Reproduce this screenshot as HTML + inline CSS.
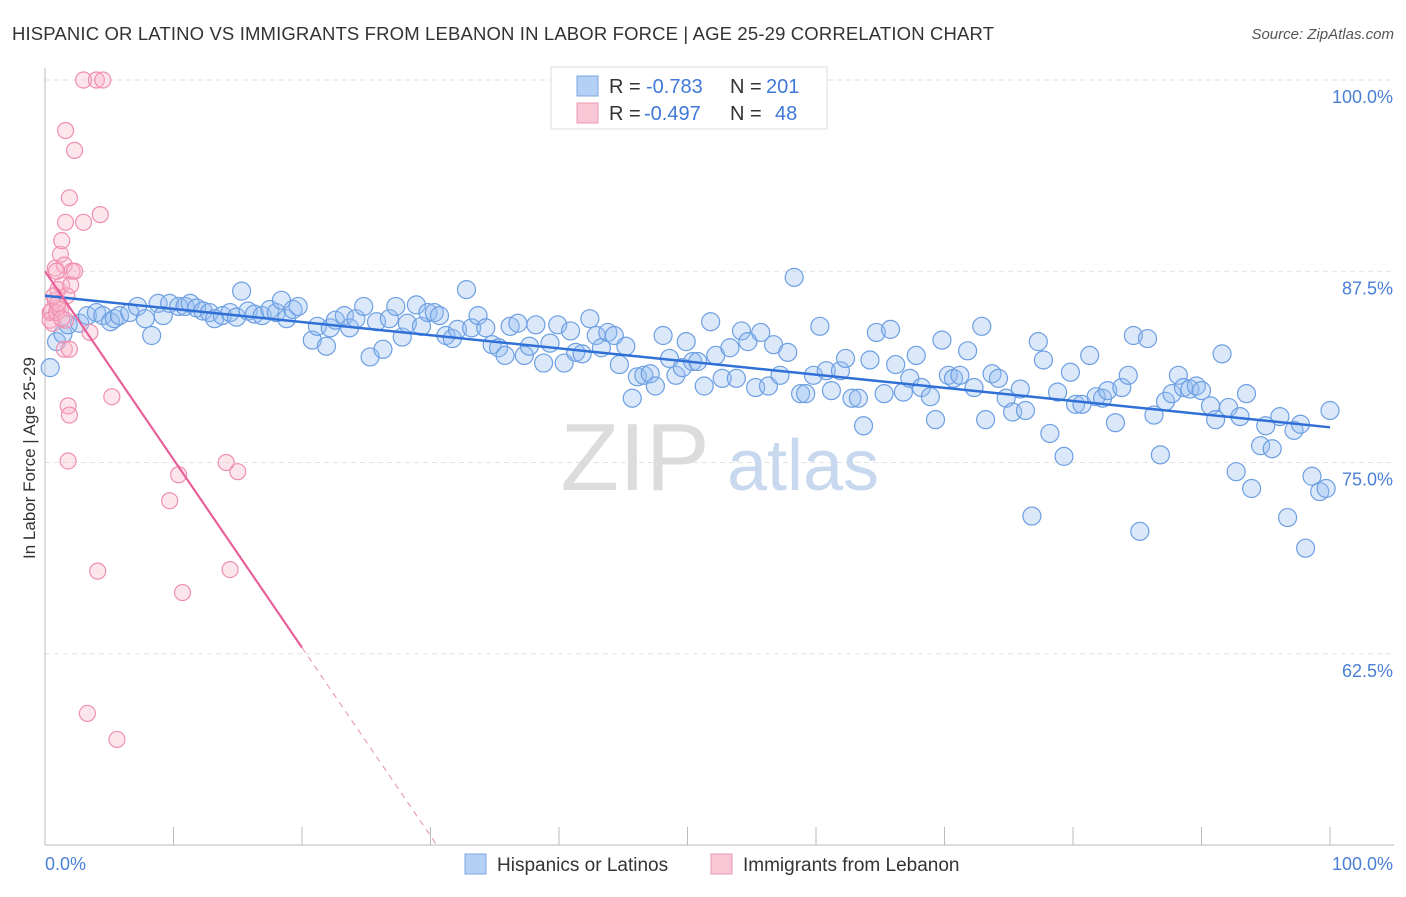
<!DOCTYPE html>
<html><head><meta charset="utf-8">
<style>
body{margin:0;background:#fff;font-family:"Liberation Sans",sans-serif;}
svg text{font-family:"Liberation Sans",sans-serif;}
</style></head>
<body>
<svg id="chart" width="1406" height="892" viewBox="0 0 1406 892">
<text x="12" y="40" font-size="18.5" fill="#333" textLength="982" lengthAdjust="spacing">HISPANIC OR LATINO VS IMMIGRANTS FROM LEBANON IN LABOR FORCE | AGE 25-29 CORRELATION CHART</text>
<text x="1394" y="39" font-size="15" fill="#555" font-style="italic" text-anchor="end">Source: ZipAtlas.com</text>
<g id="grid"></g>
<g>
<text x="635" y="490" font-size="96" fill="#dcdcdc" font-family="Liberation Serif" text-anchor="middle">ZIP</text>
<text x="803" y="490" font-size="72" fill="#c8d8ee" text-anchor="middle">atlas</text>
</g>
<g id="marks"></g>
<text x="35" y="458" font-size="17" fill="#333" text-anchor="middle" transform="rotate(-90 35 458)">In Labor Force | Age 25-29</text>
<text x="45" y="870" font-size="18" fill="#4a7fd6">0.0%</text>
<text x="1393" y="870" font-size="18" fill="#4a7fd6" text-anchor="end">100.0%</text>
<g>
<rect x="551" y="67" width="276" height="62" fill="#fff" stroke="#ddd"/>
<rect x="577" y="76" width="21" height="20" fill="#b5d0f5" stroke="#7aa6e0"/>
<text x="609" y="93" font-size="20" fill="#333">R = </text><text x="646" y="93" font-size="20" fill="#3f78d8">-0.783</text>
<text x="730" y="93" font-size="20" fill="#333">N = </text><text x="766" y="93" font-size="20" fill="#3f78d8">201</text>
<rect x="577" y="103" width="21" height="20" fill="#f9c6d6" stroke="#ec9ab6"/>
<text x="609" y="120" font-size="20" fill="#333">R = </text><text x="644" y="120" font-size="20" fill="#3f78d8">-0.497</text>
<text x="730" y="120" font-size="20" fill="#333">N = </text><text x="775" y="120" font-size="20" fill="#3f78d8">48</text>
</g>
<g>
<rect x="465" y="854" width="21" height="20" fill="#b5d0f5" stroke="#7aa6e0"/>
<text x="497" y="871" font-size="19" fill="#333">Hispanics or Latinos</text>
<rect x="711" y="854" width="21" height="20" fill="#f9c6d6" stroke="#ec9ab6"/>
<text x="743" y="871" font-size="19" fill="#333">Immigrants from Lebanon</text>
</g>
</svg>
<script>
const blueX=[0.4,0.9,1.4,1.8,2.7,3.3,4.0,4.5,5.1,5.4,5.8,6.6,7.2,7.8,8.3,8.8,9.2,9.7,10.4,10.9,11.3,11.8,12.3,12.8,13.2,13.8,14.4,14.9,15.3,15.8,16.3,16.9,17.5,18.0,18.4,18.8,19.3,19.7,20.8,21.2,21.9,22.2,22.6,23.3,23.7,24.2,24.8,25.3,25.8,26.3,26.8,27.3,27.8,28.2,28.9,29.3,29.8,30.3,30.7,31.2,31.7,32.1,32.8,33.2,33.7,34.3,34.8,35.3,35.8,36.2,36.8,37.3,37.7,38.2,38.8,39.3,39.9,40.4,40.9,41.3,41.8,42.4,42.9,43.3,43.8,44.3,44.7,45.2,45.7,46.1,46.6,47.1,47.5,48.1,48.6,49.1,49.6,49.9,50.4,50.8,51.3,51.8,52.2,52.7,53.3,53.8,54.2,54.7,55.3,55.7,56.3,56.7,57.2,57.8,58.3,58.8,59.2,59.8,60.3,60.8,61.2,61.9,62.3,62.8,63.3,63.7,64.2,64.7,65.3,65.8,66.2,66.8,67.3,67.8,68.2,68.9,69.3,69.8,70.3,70.7,71.2,71.8,72.3,72.9,73.2,73.7,74.2,74.8,75.3,75.9,76.3,76.8,77.3,77.7,78.2,78.8,79.3,79.8,80.2,80.7,81.3,81.8,82.3,82.7,83.3,83.8,84.3,84.7,85.2,85.8,86.3,86.8,87.2,87.7,88.2,88.6,89.1,89.6,90.0,90.7,91.1,91.6,92.1,92.7,93.0,93.5,93.9,94.6,95.0,95.5,96.1,96.7,97.2,97.7,98.1,98.6,99.2,99.7,100.0];
const blueY=[81.2,82.9,83.4,84.0,84.1,84.6,84.8,84.6,84.2,84.4,84.6,84.8,85.2,84.4,83.3,85.4,84.6,85.4,85.2,85.2,85.4,85.1,84.9,84.8,84.4,84.6,84.8,84.5,86.2,84.9,84.7,84.6,85.0,84.8,85.6,84.4,85.0,85.2,83.0,83.9,82.6,83.8,84.3,84.6,83.8,84.4,85.2,81.9,84.2,82.4,84.4,85.2,83.2,84.1,85.3,83.9,84.8,84.8,84.6,83.3,83.1,83.7,86.3,83.8,84.6,83.8,82.7,82.5,82.0,83.9,84.1,82.0,82.6,84.0,81.5,82.8,84.0,81.5,83.6,82.2,82.1,84.4,83.3,82.5,83.5,83.3,81.4,82.6,79.2,80.6,80.7,80.8,80.0,83.3,81.8,80.7,81.2,82.9,81.6,81.6,80.0,84.2,82.0,80.5,82.5,80.5,83.6,82.9,79.9,83.5,80.0,82.7,80.7,82.2,87.1,79.5,79.5,80.7,83.9,81.0,79.7,81.0,81.8,79.2,79.2,77.4,81.7,83.5,79.5,83.7,81.4,79.6,80.5,82.0,79.9,79.3,77.8,83.0,80.7,80.5,80.7,82.3,79.9,83.9,77.8,80.8,80.5,79.2,78.3,79.8,78.4,71.5,82.9,81.7,76.9,79.6,75.4,80.9,78.8,78.8,82.0,79.3,79.2,79.7,77.6,79.9,80.7,83.3,70.5,83.1,78.1,75.5,79.0,79.5,80.7,79.9,79.8,80.0,79.7,78.7,77.8,82.1,78.6,74.4,78.0,79.5,73.3,76.1,77.4,75.9,78.0,71.4,77.1,77.5,69.4,74.1,73.1,73.3,78.4];
const pinkX=[0.6,0.4,0.8,1.0,0.8,1.2,1.3,1.6,1.9,1.6,2.3,3.0,4.0,4.5,3.0,4.3,1.5,2.1,2.3,1.3,1.0,0.5,0.4,0.9,1.2,1.6,1.5,1.9,1.8,1.9,1.8,3.5,5.2,10.4,9.7,14.1,15.0,4.1,10.7,14.4,3.3,5.6,0.7,1.0,1.7,2.0,1.3,0.9];
const pinkY=[84.1,84.8,85.6,86.3,87.7,88.6,89.5,90.7,92.3,96.7,95.4,100,100,100,90.7,91.2,87.9,87.5,87.5,86.6,85.1,84.9,84.3,84.8,85.0,84.3,82.4,82.4,78.7,78.1,75.1,83.5,79.3,74.2,72.5,75.0,74.4,67.9,66.5,68.0,58.6,56.9,85.9,85.4,85.9,86.6,84.4,87.5];
const yTicks=[100,87.5,75,62.5];
const yTickLabels=["100.0%","87.5%","75.0%","62.5%"];
const xTicks=[0,10,20,30,40,50,60,70,80,90,100];
const blueTrend=[85.9,77.3];
const pinkTrend=[87.5,62.9];
const pinkSolidEnd=20;

const X0=45,X1=1330,Y0=845,Y1=80,VMIN=50,VMAX=100;
function sx(v){return X0+(v/100)*(X1-X0);}
function sy(v){return Y0-(v-VMIN)/(VMAX-VMIN)*(Y0-Y1);}
const NS="http://www.w3.org/2000/svg";
function mk(tag,attrs,parent){const e=document.createElementNS(NS,tag);for(const k in attrs)e.setAttribute(k,attrs[k]);parent.appendChild(e);return e;}
const grid=document.getElementById('grid'),marks=document.getElementById('marks');
yTicks.forEach((t,i)=>{
  const l=mk('line',{x1:X0,x2:1394,y1:sy(t),y2:sy(t),stroke:'#e2e2e2','stroke-dasharray':'5,4'},grid);
  
  
  const tx=mk('text',{x:1393,y:sy(t)+23,'font-size':18,fill:'#4a7fd6','text-anchor':'end'},grid);
  tx.textContent=yTickLabels[i];
  
  
});
const ax=mk('line',{x1:X0,x2:1394,y1:Y0,y2:Y0,stroke:'#bbb'},grid);


const ay=mk('line',{x1:X0,x2:X0,y1:68,y2:Y0,stroke:'#bbb'},grid);


xTicks.forEach(t=>{
  const l=mk('line',{x1:sx(t),x2:sx(t),y1:Y0-18,y2:Y0,stroke:'#bbb'},grid);
  
  
});
blueX.forEach((x,i)=>{
  const c=mk('circle',{cx:sx(x),cy:sy(blueY[i]),r:9,fill:'rgba(150,190,240,0.35)',stroke:'#6d9fe2','stroke-width':1.2},marks);
  
  
});
pinkX.forEach((x,i)=>{
  const c=mk('circle',{cx:sx(x),cy:sy(pinkY[i]),r:8,fill:'rgba(248,180,200,0.35)',stroke:'#ef8fb0','stroke-width':1.2},marks);
  
  
});
const bl=mk('line',{x1:sx(0),y1:sy(blueTrend[0]),x2:sx(100),y2:sy(blueTrend[1]),stroke:'#2f6fd6','stroke-width':2.5},marks);


const slope=(pinkTrend[1]-pinkTrend[0])/pinkSolidEnd;
const xEnd=(VMIN-pinkTrend[0])/slope;
const pl=mk('line',{x1:sx(0),y1:sy(pinkTrend[0]),x2:sx(pinkSolidEnd),y2:sy(pinkTrend[1]),stroke:'#e8609a','stroke-width':2.2},marks);


const pd=mk('line',{x1:sx(pinkSolidEnd),y1:sy(pinkTrend[1]),x2:sx(xEnd),y2:sy(VMIN),stroke:'#e8a0bc','stroke-width':1.2,'stroke-dasharray':'6,5'},marks);


</script>
</body></html>
